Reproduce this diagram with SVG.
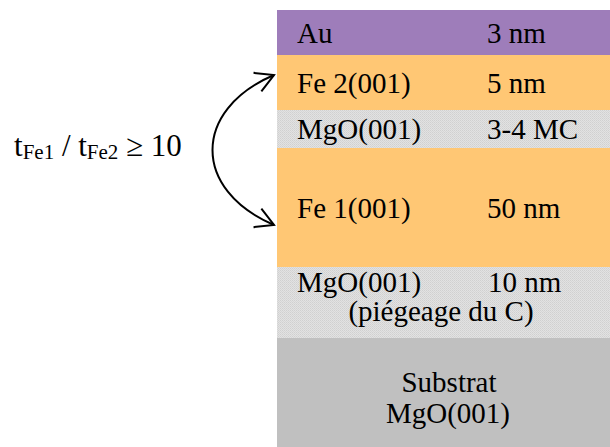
<svg xmlns="http://www.w3.org/2000/svg" width="610" height="447" viewBox="0 0 610 447">
<style>
text { font-family: "Liberation Serif", "Times New Roman", serif; font-size: 29px; fill: #000; }
.c { text-anchor: middle; }
.conn { fill: none; stroke: #000; stroke-width: 2; }
</style>
<defs>
<pattern id="dots" width="2" height="2" patternUnits="userSpaceOnUse">
<rect width="2" height="2" fill="#e2e2e2"/>
<rect width="1" height="1" fill="#d0d0d0"/>
<rect x="1" y="1" width="1" height="1" fill="#d6d6d6"/>
</pattern>
<marker id="open" viewBox="-22 -12 24 24" markerWidth="24" markerHeight="24" refX="0" refY="0" orient="auto-start-reverse" markerUnits="userSpaceOnUse">
<path d="M -18 -10 L 0 0 L -18 10" fill="none" stroke="#000" stroke-width="2"/>
</marker>
</defs>
<rect width="610" height="447" fill="#fff"/>
<g id="au">
<rect x="277" y="10" width="333" height="45" fill="#9e7dba"/>
<text x="297" y="43">Au</text>
<text x="487" y="43">3 nm</text>
</g>
<g id="fe2">
<rect x="277" y="55" width="333" height="55" fill="#ffc774"/>
<text x="297" y="93">Fe 2(001)</text>
<text x="487" y="93">5 nm</text>
</g>
<g id="mgo1">
<rect x="277" y="110" width="333" height="38" fill="url(#dots)"/>
<text x="297" y="139">MgO(001)</text>
<text x="487" y="139">3-4 MC</text>
</g>
<g id="fe1">
<rect x="277" y="148" width="333" height="119" fill="#ffc774"/>
<text x="297" y="218">Fe 1(001)</text>
<text x="487" y="218">50 nm</text>
</g>
<g id="mgo2">
<rect x="277" y="267" width="333" height="71" fill="url(#dots)"/>
<text x="297" y="292">MgO(001)</text>
<text x="488" y="292">10 nm</text>
<text x="441" y="321" class="c">(piégeage du C)</text>
</g>
<g id="substrat">
<rect x="277" y="338" width="333" height="109" fill="#c0c0c0"/>
<text x="449" y="392" class="c">Substrat</text>
<text x="448" y="423" class="c">MgO(001)</text>
</g>
<g id="ratio">
<text x="14" y="156" style="font-size:31px">t<tspan dy="3" style="font-size:21px">Fe1</tspan><tspan dy="-3"> / t</tspan><tspan dy="3" style="font-size:21px">Fe2</tspan><tspan dy="-3"> ≥ 10</tspan></text>
</g>
<g id="connectors">
<path class="conn" d="M 274 75 C 192 110, 192 190, 274 225" marker-start="url(#open)" marker-end="url(#open)"/>
</g>
</svg>
